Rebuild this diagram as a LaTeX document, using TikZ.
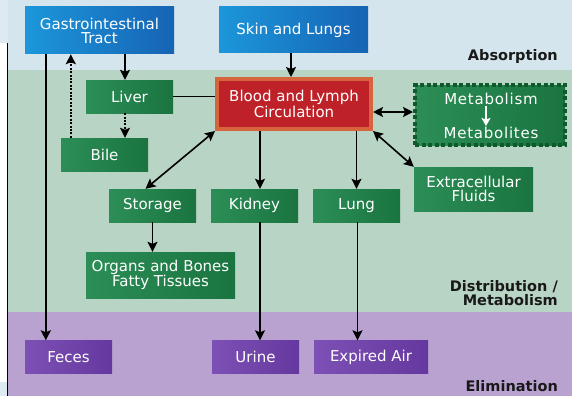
\documentclass[tikz,border=0pt]{standalone}
\usepackage{fontspec}
\setmainfont{DejaVu Sans}
\newfontfamily\metfont[LetterSpace=5]{DejaVu Sans}
\usetikzlibrary{arrows.meta,calc}
\definecolor{bgtop}{RGB}{213,229,237}
\definecolor{bgtopL}{RGB}{221,234,241}
\definecolor{bggrn}{RGB}{184,212,196}
\definecolor{bgpur}{RGB}{185,162,208}
\definecolor{grnL}{RGB}{44,142,86}
\definecolor{grnR}{RGB}{26,116,64}
\definecolor{bluL}{RGB}{28,150,218}
\definecolor{bluR}{RGB}{22,100,180}
\definecolor{purL}{RGB}{124,80,180}
\definecolor{purR}{RGB}{100,56,158}
\definecolor{redF}{RGB}{190,34,40}
\definecolor{redB}{RGB}{214,100,60}
\definecolor{metB}{RGB}{14,90,42}
\begin{document}
\begin{tikzpicture}[x=1pt,y=-1pt,
  box/.style={rectangle, inner sep=0pt, text=white, align=center, font=\fontsize{15}{14}\selectfont},
  gbox/.style={box, left color=grnL, right color=grnR},
  bbox/.style={box, left color=bluL, right color=bluR},
  pbox/.style={box, left color=purL, right color=purR},
  tip/.tip={Stealth[length=10pt,width=10pt,inset=2pt]},
  conn/.style={line width=1.6pt, black},
  arr/.style={conn, -tip},
  darr/.style={conn, tip-tip},
  dotarr/.style={arr, line width=1.8pt, dash pattern=on 2pt off 1.4pt},
  lbl/.style={font=\fontsize{14.5}{14}\selectfont\bfseries, anchor=east, text=black!90, align=right, inner sep=0pt}
]
\useasboundingbox (0,0) rectangle (572,396);
% background bands
\fill[bgtop] (0,0) rectangle (572,70);
\fill[bggrn] (0,70) rectangle (572,312);
\fill[bgpur] (0,312) rectangle (572,396);
\fill[bgtopL] (0,0) rectangle (8,43);
\fill[white] (0,43) rectangle (7,382);
\fill[bgtopL] (0,382) rectangle (7,396);
\draw[black, line width=1.2pt] (7.3,43) -- (7.3,396);

% band labels
\node[lbl] (labs) at (558,56) {Absorption};
\node[lbl] (ldist) at (558,293) {Distribution /\\Metabolism};
\node[lbl] (lelim) at (558,386) {Elimination};

% boxes
\node[bbox, minimum width=149pt, minimum height=47pt] (gi) at (99.5,30.5) {Gastrointestinal\\Tract};
\node[bbox, minimum width=149pt, minimum height=46pt] (skin) at (293.5,30) {Skin and Lungs};
\node[gbox, minimum width=87pt, minimum height=33pt] (liver) at (129.5,96.5) {Liver};
\node[box, fill=redF, draw=redB, line width=4pt, minimum width=154pt, minimum height=50pt] (blood) at (294,104) {Blood and Lymph\\Circulation};
\node[box, left color=grnL, right color=grnR, draw=metB, line width=4pt, dash pattern=on 4pt off 2.5pt, minimum width=150pt, minimum height=60pt] (met) at (490,115) {};
\node[box, inner sep=1pt, font=\metfont\fontsize{15}{13}\selectfont] (metA) at (491,99) {Metabolism};
\node[box, inner sep=1pt, font=\metfont\fontsize{15}{13}\selectfont] (metB) at (491,133) {Metabolites};
\node[gbox, minimum width=87pt, minimum height=33pt] (bile) at (104.5,154.5) {Bile};
\node[gbox, minimum width=87pt, minimum height=33pt] (storage) at (152.5,205.5) {Storage};
\node[gbox, minimum width=87pt, minimum height=33pt] (kidney) at (254.5,205.5) {Kidney};
\node[gbox, minimum width=87pt, minimum height=33pt] (lung) at (356.5,205.5) {Lung};
\node[gbox, minimum width=119pt, minimum height=44pt] (extra) at (473.5,189) {Extracellular\\Fluids};
\node[gbox, minimum width=149pt, minimum height=46pt] (organs) at (160.5,275) {Organs and Bones\\Fatty Tissues};
\node[pbox, minimum width=87pt, minimum height=33pt] (feces) at (68.5,357) {Feces};
\node[pbox, minimum width=87pt, minimum height=33pt] (urine) at (255.5,357) {Urine};
\node[pbox, minimum width=114pt, minimum height=33pt] (expired) at (371,357) {Expired Air};

% connectors
\coordinate (gil) at ([xshift=21pt]gi.south west);
\draw[arr] (gil) -- (gil |- feces.north);
\coordinate (lvx) at ([xshift=-4.5pt]liver.north);
\draw[arr] (gi.south -| lvx) -- (lvx);
\coordinate (lvb) at ([xshift=-4.5pt]liver.south);
\draw[dotarr] (lvb) -- (lvb |- bile.north);
\coordinate (bl) at ([xshift=10pt]bile.north west);
\draw[dotarr] (bl) -- (bl |- gi.south);
\draw[conn] (liver.east) -- (liver.east -| blood.west);
\coordinate (sk) at ([xshift=-2.5pt]skin.south);
\draw[arr] (sk) -- (sk |- blood.north);
\coordinate (mw) at ([yshift=3pt]met.west);
\draw[darr] (blood.east |- mw) -- (mw);
\draw[darr] (blood.south west) -- ([xshift=-7pt]storage.north);
\coordinate (kt) at ([xshift=5.5pt]kidney.north);
\draw[arr] (blood.south -| kt) -- (kt);
\draw[arr] (blood.south -| lung.north) -- (lung.north);
\draw[darr] (blood.south east) -- (extra.north west);
\draw[arr] (storage.south) -- (storage.south |- organs.north);
\coordinate (kb) at ([xshift=5.5pt]kidney.south);
\draw[arr] (kb) -- (kb |- urine.north);
\coordinate (lb) at ([xshift=1pt]lung.south);
\draw[arr] (lb) -- (lb |- expired.north);
\draw[white, line width=1.5pt, -{Stealth[length=8pt,width=9pt,inset=1.5pt]}] ([xshift=-5pt]metA.south) -- ([xshift=-5pt]metB.north);
\end{tikzpicture}
\end{document}
